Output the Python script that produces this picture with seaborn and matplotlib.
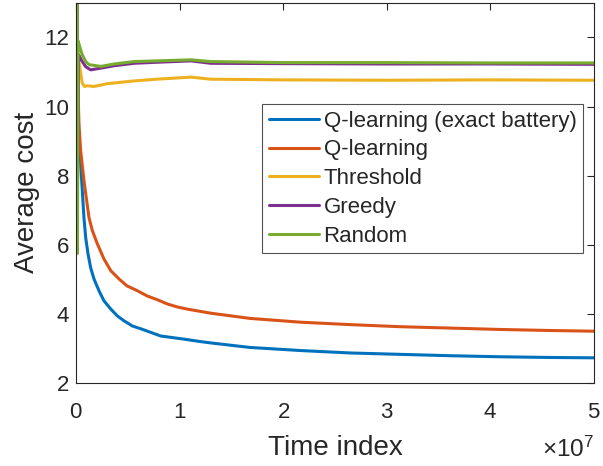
import numpy as np
import pandas as pd
import seaborn as sns
import matplotlib.pyplot as plt
import matplotlib.transforms as mtransforms
from matplotlib.ticker import ScalarFormatter

# time axis in units of 1e7
t_qexact = [0.012, 0.029, 0.045, 0.061, 0.077, 0.094, 0.116, 0.142, 0.174, 0.222, 0.27,
            0.336, 0.40, 0.464, 0.545, 0.626, 0.819, 1.044, 1.2, 1.303, 1.68, 2.17,
            2.65, 3.13, 3.62, 4.10, 4.58, 5.0]
y_qexact = [9.3, 9.22, 8.35, 7.57, 6.78, 6.2, 5.74, 5.33, 5.01, 4.67, 4.38,
            4.14, 3.94, 3.8, 3.65, 3.57, 3.36, 3.27, 3.2, 3.16, 3.03, 2.94,
            2.87, 2.83, 2.79, 2.76, 2.74, 2.73]

t_qlearn = [0.012, 0.02, 0.029, 0.045, 0.077, 0.103, 0.126, 0.158, 0.206, 0.27, 0.336,
            0.416, 0.493, 0.593, 0.687, 0.786, 0.880, 0.98, 1.073, 1.206, 1.303, 1.68,
            2.17, 2.65, 3.13, 3.62, 4.10, 4.58, 5.0]
y_qlearn = [11.0, 10.4, 9.5, 8.72, 7.86, 7.28, 6.78, 6.41, 6.03, 5.59, 5.25,
            5.01, 4.81, 4.67, 4.52, 4.41, 4.29, 4.2, 4.14, 4.07, 4.02, 3.87,
            3.76, 3.69, 3.63, 3.59, 3.55, 3.52, 3.50]

t_thresh = [0.012, 0.02, 0.03, 0.06, 0.084, 0.110, 0.17, 0.24, 0.30, 0.56, 0.78, 1.11,
            1.30, 2.0, 3.0, 4.0, 5.0]
y_thresh = [9.0, 10.6, 11.26, 10.68, 10.58, 10.6, 10.58, 10.62, 10.66, 10.74, 10.79, 10.85,
            10.79, 10.77, 10.76, 10.77, 10.76]

t_greedy = [0.012, 0.014, 0.025, 0.05, 0.094, 0.142, 0.24, 0.37, 0.56, 0.78, 1.11,
            1.30, 2.0, 3.0, 4.0, 5.0]
y_greedy = [13.5, 7.5, 11.5, 11.35, 11.15, 11.06, 11.11, 11.18, 11.25, 11.28, 11.32,
            11.25, 11.24, 11.23, 11.23, 11.22]

t_random = [0.012, 0.014, 0.02, 0.03, 0.06, 0.094, 0.126, 0.24, 0.37, 0.56, 0.78, 1.11,
            1.30, 2.0, 3.0, 4.0, 5.0]
y_random = [13.5, 5.75, 11.9, 11.79, 11.5, 11.3, 11.21, 11.16, 11.23, 11.3, 11.32, 11.35,
            11.3, 11.27, 11.27, 11.26, 11.26]

labels = ["Q-learning (exact battery)", "Q-learning", "Threshold", "Greedy", "Random"]
colors = ["#0072BD", "#D95319", "#EDB120", "#7E2F8E", "#77AC30"]

series = [(t_qexact, y_qexact), (t_qlearn, y_qlearn), (t_thresh, y_thresh),
          (t_greedy, y_greedy), (t_random, y_random)]
frames = []
for lab, (t, y) in zip(labels, series):
    frames.append(pd.DataFrame({"time": np.array(t) * 1e7, "cost": y, "policy": lab}))
df = pd.concat(frames, ignore_index=True)

sns.set_theme(style="white")
plt.rcParams['font.family'] = ['Liberation Sans', 'DejaVu Sans']
plt.rcParams['mathtext.fontset'] = 'custom'
plt.rcParams['mathtext.rm'] = 'Liberation Sans'
plt.rcParams['mathtext.it'] = 'Liberation Sans:italic'
plt.rcParams['axes.edgecolor'] = '#262626'
plt.rcParams['axes.linewidth'] = 0.8

fig = plt.figure(figsize=(6.03, 4.66), dpi=100)
ax = fig.add_axes([0.126, 0.178, 0.859, 0.816])

sns.lineplot(data=df, x="time", y="cost", hue="policy", hue_order=labels,
             palette=colors, linewidth=2.2, sort=False, estimator=None, ax=ax)

ax.set_xlim(0, 5e7)
ax.set_ylim(2, 13)
ax.set_yticks([2, 4, 6, 8, 10, 12])
ax.set_xticks(np.arange(0, 6) * 1e7)
fmt = ScalarFormatter(useMathText=True)
fmt.set_powerlimits((0, 0))
ax.xaxis.set_major_formatter(fmt)
ax.tick_params(direction="in", top=True, right=True, length=5, width=0.8,
               labelsize=16, colors='#262626')
ax.tick_params(axis="x", pad=14)
ax.tick_params(axis="y", pad=5)

# push the x10^7 multiplier down beside the axis label
ot = ax.xaxis.get_offset_text()
ot.set_fontsize(17.5)
ot.set_transform(ot.get_transform() + mtransforms.ScaledTranslation(0, -0.09, fig.dpi_scale_trans))

ax.set_xlabel("Time index", fontsize=20, color='#262626', labelpad=8)
ax.set_ylabel("Average cost", fontsize=20, color='#262626', labelpad=3)

leg = ax.legend(loc="upper right", bbox_to_anchor=(0.979, 0.734), fontsize=16,
                frameon=True, fancybox=False, edgecolor='#262626', handlelength=2.25,
                handletextpad=0.22, borderpad=0.3, labelspacing=0.35, borderaxespad=0)
leg.get_frame().set_linewidth(0.8)
for h in leg.get_lines():
    h.set_linewidth(2.2)

fig.savefig("out.png", dpi=100)
